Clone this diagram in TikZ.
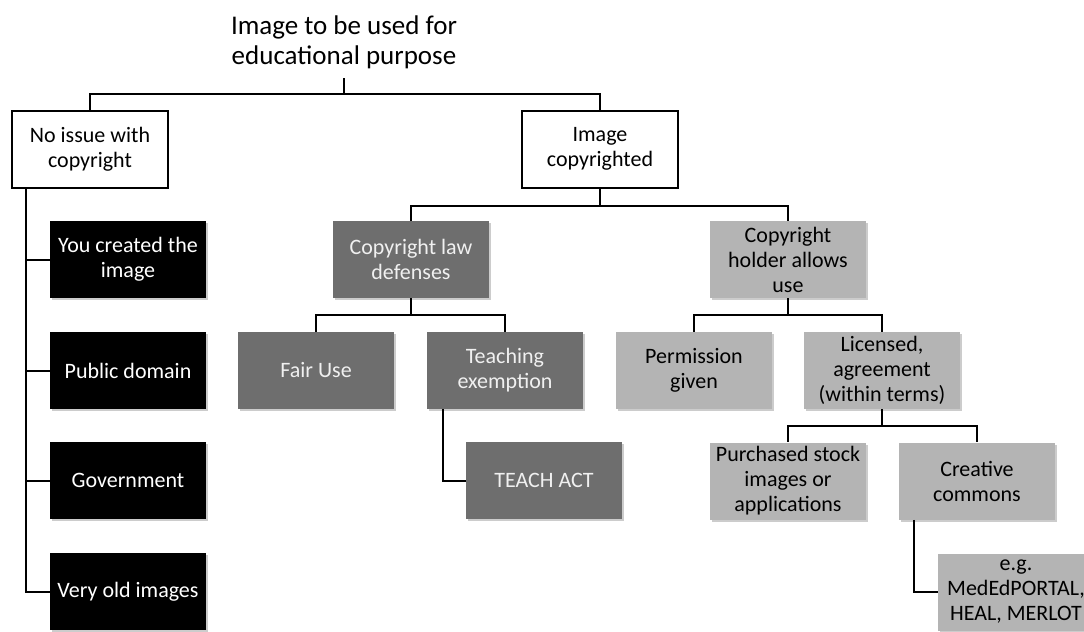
\documentclass[tikz,border=0pt]{standalone}
\usepackage{fontspec}
\setmainfont{Carlito}
\usetikzlibrary{positioning,shadows}
\definecolor{darkGrey}{HTML}{6E6E6E}
\definecolor{lightGrey}{HTML}{B4B4B4}
\definecolor{paleText}{HTML}{F0F0F0}
\tikzset{
  box/.style={rectangle, minimum width=78pt, minimum height=38.5pt, inner sep=1pt, align=center, font={\fontsize{11}{12.5}\selectfont}},
  plainBox/.style={box, fill=white, draw, line width=1pt},
  blackBox/.style={box, fill=black, text=white, drop shadow={shadow xshift=1pt, shadow yshift=-1.2pt, fill=black, opacity=0.2}},
  darkBox/.style={box, fill=darkGrey, text=paleText, drop shadow={shadow xshift=1pt, shadow yshift=-1.2pt, fill=black, opacity=0.2}},
  lightBox/.style={box, fill=lightGrey, drop shadow={shadow xshift=1pt, shadow yshift=-1.2pt, fill=black, opacity=0.2}},
  link/.style={line width=1pt}
}
\begin{document}
\begin{tikzpicture}[x=0.5pt, y=-0.5pt]
      \useasboundingbox (0,0) rectangle (1084,632);

      \node[anchor=south, inner sep=4.5pt, align=center, font={\fontsize{13.5}{15}\selectfont}] (root) at (344,78) {Image to be used for\\educational purpose};

      \node[plainBox] (noIssue) at (90,149) {No issue with\\copyright};
      \node[plainBox] (copyrighted) at (600,149) {Image\\copyrighted};

      \node[blackBox] (created) at (128,259.5) {You created the\\image};
      \node[blackBox] (publicDomain) at (128,370.5) {Public domain};
      \node[blackBox] (government) at (128,480.5) {Government};
      \node[blackBox] (veryOld) at (128,591.5) {Very old images};

      \node[darkBox] (defenses) at (411,259.5) {Copyright law\\defenses};
      \node[darkBox] (fairUse) at (316,370.5) {Fair Use};
      \node[darkBox] (teaching) at (505,370.5) {Teaching\\exemption};
      \node[darkBox] (teachAct) at (544,480.5) {TEACH ACT};

      \node[lightBox] (holder) at (788,259.5) {Copyright\\holder allows\\use};
      \node[lightBox] (permission) at (694,370.5) {Permission\\given};
      \node[lightBox] (licensed) at (882,370.5) {Licensed,\\agreement\\(within terms)};
      \node[lightBox] (purchased) at (788,481) {Purchased stock\\images or\\applications};
      \node[lightBox] (creative) at (977,481) {Creative\\commons};
      \node[lightBox] (example) at (1016,592) {e.g.\\MedEdPORTAL,\\HEAL, MERLOT};

      \foreach \kid in {noIssue,copyrighted}
        \draw[link] (root.south) -- ++(0,-8pt) -| (\kid.north);
      \foreach \kid in {created,publicDomain,government,veryOld}
        \draw[link] ([xshift=7.5pt]noIssue.south west) |- (\kid.west);
      \foreach \kid in {defenses,holder}
        \draw[link] (copyrighted.south) -- ++(0,-8.5pt) -| (\kid.north);
      \foreach \kid in {fairUse,teaching}
        \draw[link] (defenses.south) -- ++(0,-8.5pt) -| (\kid.north);
      \draw[link] ([xshift=8pt]teaching.south west) |- (teachAct.west);
      \foreach \kid in {permission,licensed}
        \draw[link] (holder.south) -- ++(0,-8.5pt) -| (\kid.north);
      \foreach \kid in {purchased,creative}
        \draw[link] (licensed.south) -- ++(0,-8.5pt) -| (\kid.north);
      \draw[link] ([xshift=7.5pt]creative.south west) |- (example.west);

    \end{tikzpicture}
\end{document}
